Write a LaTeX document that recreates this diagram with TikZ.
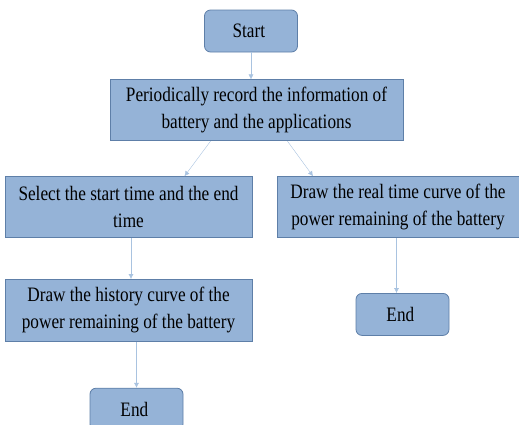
\documentclass[tikz,border=0pt]{standalone}
\usepackage{fontspec}
\setmainfont{Liberation Serif}[FakeStretch=0.84]
\usetikzlibrary{positioning, arrows.meta}
\definecolor{boxfill}{HTML}{95B3D7}
\definecolor{boxline}{HTML}{5E7FA8}
\definecolor{arrowblue}{HTML}{A9C3E0}
\newcommand{\flowarrow}{-{Latex[length=5pt,width=5pt]}}
\tikzset{
    stepbox/.style={draw=boxline, fill=boxfill, line width=0.8pt, align=center,
        font=\fontsize{20.5}{27}\selectfont, inner sep=2pt},
    endbox/.style={stepbox, rounded corners=6pt, minimum width=93pt, minimum height=42pt}
}

\begin{document}
\begin{tikzpicture}[x=1pt, y=1pt]
        \useasboundingbox (0,0) rectangle (519,-424);
        \node[endbox] (start) at (251,-31) { Start };
        \node[stepbox, below=27pt of start, xshift=5.5pt, minimum width=293pt, minimum height=61pt] (record)
        { Periodically record the information of\\ battery and the applications };
        \node[stepbox, below=35pt of record, xshift=-128pt, minimum width=247pt, minimum height=61pt] (select)
        { Select the start time and the end\\ time };
        \node[stepbox, below=35pt of record, xshift=141.5pt, minimum width=242pt, minimum height=61pt] (realtime)
        { Draw the real time curve of the\\ power remaining of the battery };
        \node[stepbox, below=41pt of select, minimum width=247pt, minimum height=62pt] (history)
        { Draw the history curve of the\\ power remaining of the battery };
        \node[endbox, below=46pt of history, xshift=8pt] (endhist) { End };
        \node[endbox, below=55pt of realtime, xshift=4.5pt] (endreal) { End };
        \draw[\flowarrow, arrowblue] (start.south) -- (start.south |- record.north);
        \draw[\flowarrow, arrowblue] ([xshift=-46pt]record.south) -- ([xshift=56pt]select.north);
        \draw[\flowarrow, arrowblue] ([xshift=31pt]record.south) -- ([xshift=-85pt]realtime.north);
        \draw[\flowarrow, arrowblue] ([xshift=2.5pt]select.south) -- ([xshift=2.5pt]history.north);
        \draw[\flowarrow, arrowblue] (endhist.north |- history.south) -- (endhist.north);
        \draw[\flowarrow, arrowblue] ([xshift=-6pt]endreal.north |- realtime.south) -- ([xshift=-6pt]endreal.north);
    \end{tikzpicture}
\end{document}
